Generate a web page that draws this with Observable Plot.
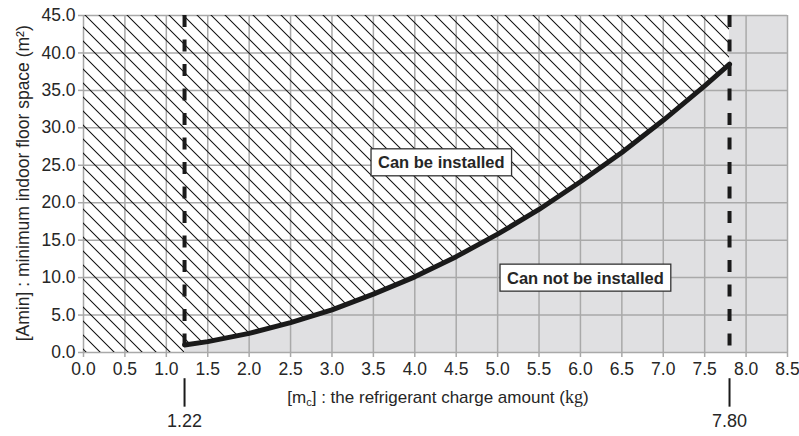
<!DOCTYPE html>
<html><head><meta charset="utf-8">
<script src="https://cdn.jsdelivr.net/npm/d3@7"></script>
<script src="https://cdn.jsdelivr.net/npm/@observablehq/plot@0.6"></script>
<style>
body{margin:0;background:#fff;}
</style>
</head><body><div id="chart"></div>
<script>
// ---- data ----
const chargeKg   = [1.22, 1.5, 2.0, 2.5, 3.0, 3.5, 4.0, 4.5, 5.0, 5.5, 6.0, 6.5, 7.0, 7.5, 7.8];
const minAreaM2  = [1.0, 1.45, 2.55, 4.0, 5.7, 7.8, 10.1, 12.8, 15.8, 19.1, 22.8, 26.7, 31.0, 35.6, 38.5];
const xTicks = [0,0.5,1,1.5,2,2.5,3,3.5,4,4.5,5,5.5,6,6.5,7,7.5,8,8.5];
const yTicks = [0,5,10,15,20,25,30,35,40,45];
const limitKg = [1.22, 7.80];
const limitLabels = ["1.22", "7.80"];
const regionLabels = ["Can be installed", "Can not be installed"];
const regionX = [4.32, 6.06];
const regionY = [25.3, 9.9];
const xLabel = "[mc] : the refrigerant charge amount (kg)";
const yLabel = "[Amin] : minimum indoor floor space (m²)";

const curve = chargeKg.map((m, i) => ({m, a: minAreaM2[i]}));
const regions = regionLabels.map((t, i) => ({t, x: regionX[i], y: regionY[i]}));
const limits = limitKg.map((x, i) => ({x, t: limitLabels[i]}));
const xMin = xTicks[0], xMax = xTicks[xTicks.length - 1];
const yMin = yTicks[0], yMax = yTicks[yTicks.length - 1];

const GRAY_FILL = "#e0e0e2", GRID = "#a9a9a9", INK = "#1a1a1a", TXT = "#262626";
const FONT = "'Liberation Sans', Arial, Helvetica, sans-serif";

function hatchDefs() {
  const ns = "http://www.w3.org/2000/svg";
  const defs = document.createElementNS(ns, "defs");
  const p = document.createElementNS(ns, "pattern");
  p.setAttribute("id", "hatch");
  p.setAttribute("patternUnits", "userSpaceOnUse");
  p.setAttribute("width", 14);
  p.setAttribute("height", 14);
  const path = document.createElementNS(ns, "path");
  path.setAttribute("d", "M0,0L14,14M-1,13L1,15M13,-1L15,1");
  path.setAttribute("stroke", "#111");
  path.setAttribute("stroke-width", 1.05);
  p.appendChild(path);
  defs.appendChild(p);
  return defs;
}

const plot = Plot.plot({
  width: 799,
  height: 436,
  marginLeft: 83,
  marginRight: 12,
  marginTop: 15,
  marginBottom: 84,
  style: {fontSize: "17.5px", fontFamily: FONT, color: TXT, background: "#fff"},
  x: {domain: [xMin, xMax]},
  y: {domain: [yMin, yMax]},
  marks: [
    hatchDefs,
    // grey "can not be installed" zones
    Plot.areaY(curve, {x: "m", y1: yMin, y2: "a", fill: GRAY_FILL}),
    Plot.rect([{x1: limitKg[1], x2: xMax}], {x1: "x1", x2: "x2", y1: yMin, y2: yMax, fill: GRAY_FILL}),
    // grid
    Plot.ruleX(xTicks, {stroke: GRID, strokeWidth: 1.5}),
    Plot.ruleY(yTicks, {stroke: GRID, strokeWidth: 1.5}),
    // hatched zones
    Plot.rect([{x1: xMin, x2: limitKg[0]}], {x1: "x1", x2: "x2", y1: yMin, y2: yMax, fill: "url(#hatch)"}),
    Plot.areaY(curve, {x: "m", y1: "a", y2: yMax, fill: "url(#hatch)"}),
    // curve
    Plot.line(curve, {x: "m", y: "a", stroke: INK, strokeWidth: 5}),
    // dashed limits
    Plot.ruleX(limitKg, {y1: yMax, y2: yMin, stroke: INK, strokeWidth: 4, strokeDasharray: "12,12.5"}),
    // axes
    Plot.axisX(xTicks, {tickFormat: d => d.toFixed(1), tickSize: 5, tickPadding: 5, stroke: GRID, strokeWidth: 1.5, fill: TXT, label: null, fontSize: 17.5}),
    Plot.axisY(yTicks, {tickFormat: d => d.toFixed(1), tickSize: 5, tickPadding: 3, stroke: GRID, strokeWidth: 1.5, fill: TXT, label: null, fontSize: 17.5}),
    // axis titles
    Plot.text([xLabel], {x: 4.28, y: -6.0, text: d => d, fill: TXT, fontSize: 17, className: "xlabel"}),
    Plot.text([yLabel], {x: -0.72, y: 22.6, text: d => d, rotate: -90, fill: TXT, fontSize: 17.5}),
    // limit markers below axis
    Plot.ruleX(limits, {x: "x", y1: -3.5, y2: -7.3, stroke: INK, strokeWidth: 2}),
    Plot.text(limits, {x: "x", y: -9.2, text: "t", fill: TXT, fontSize: 18}),
    // region labels
    Plot.text(regions, {x: "x", y: "y", text: "t", fill: TXT, fontSize: 16.5, fontWeight: "bold", className: "region"})
  ]
});

document.getElementById("chart").appendChild(plot);

// boxes behind region labels
const ns = "http://www.w3.org/2000/svg";
plot.querySelectorAll("g.region text").forEach(t => {
  const b = t.getBBox();
  const r = document.createElementNS(ns, "rect");
  const padX = 7, padY = 4.5;
  r.setAttribute("x", b.x - padX);
  r.setAttribute("y", b.y - padY);
  r.setAttribute("width", b.width + 2 * padX);
  r.setAttribute("height", b.height + 2 * padY);
  r.setAttribute("fill", "#fff");
  r.setAttribute("stroke", "#333");
  r.setAttribute("stroke-width", 1.3);
  if (t.getAttribute("transform")) r.setAttribute("transform", t.getAttribute("transform"));
  t.parentNode.insertBefore(r, t);
});

// subscript "c" and serif "kg" in the x title
plot.querySelectorAll("g.xlabel text").forEach(t => {
  const parts = [
    {s: "[m"},
    {s: "c", size: "11px", dy: "3"},
    {s: "] : the refrigerant charge amount (", dy: "-3"},
    {s: "kg", family: "'Liberation Serif','DejaVu Serif',serif", size: "18px"},
    {s: ")"}
  ];
  while (t.firstChild) t.removeChild(t.firstChild);
  parts.forEach(p => {
    const ts = document.createElementNS(ns, "tspan");
    ts.textContent = p.s;
    if (p.size) ts.setAttribute("font-size", p.size);
    if (p.dy) ts.setAttribute("dy", p.dy);
    if (p.family) ts.setAttribute("font-family", p.family);
    t.appendChild(ts);
  });
});
</script>
</body></html>
